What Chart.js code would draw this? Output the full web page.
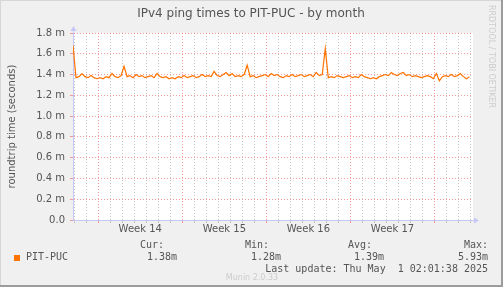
<!DOCTYPE html>
<html>
<head>
<meta charset="utf-8">
<script src="https://cdn.jsdelivr.net/npm/chart.js@4/dist/chart.umd.min.js"></script>
<style>
  html, body { margin: 0; padding: 0; background: #f0f0f0; }
  canvas { display: block; }
</style>
</head>
<body>
<canvas id="pingChart" width="503" height="287"></canvas>
<script>
// ping samples every 6h, in ms; x is days relative to Mon Mar 31 (start of week 14)
const sampleStart = -2.1;
const sampleStep = 0.25;
const pingValues = [
  1.68, 1.37, 1.38, 1.41, 1.38, 1.37, 1.39, 1.37, 1.36, 1.37,
  1.36, 1.38, 1.37, 1.41, 1.38, 1.37, 1.39, 1.48, 1.38, 1.39,
  1.37, 1.40, 1.38, 1.39, 1.37, 1.38, 1.39, 1.37, 1.41, 1.38,
  1.37, 1.38, 1.36, 1.37, 1.36, 1.38, 1.37, 1.39, 1.37, 1.38,
  1.39, 1.37, 1.38, 1.40, 1.38, 1.39, 1.38, 1.43, 1.39, 1.38,
  1.40, 1.42, 1.39, 1.41, 1.38, 1.39, 1.38, 1.40, 1.49, 1.38,
  1.39, 1.37, 1.38, 1.39, 1.40, 1.38, 1.41, 1.39, 1.40, 1.38,
  1.37, 1.39, 1.38, 1.40, 1.38, 1.39, 1.40, 1.38, 1.39, 1.40,
  1.38, 1.42, 1.39, 1.40, 1.65, 1.37, 1.38, 1.37, 1.39, 1.38,
  1.37, 1.38, 1.39, 1.37, 1.38, 1.37, 1.40, 1.38, 1.37, 1.36,
  1.37, 1.36, 1.38, 1.39, 1.40, 1.39, 1.42, 1.40, 1.39, 1.41,
  1.42, 1.39, 1.40, 1.38, 1.39, 1.38, 1.37, 1.38, 1.39, 1.38,
  1.36, 1.41, 1.34, 1.38, 1.39, 1.38, 1.40, 1.38, 1.39, 1.41,
  1.38, 1.36, 1.38
];

const xMin = -2.1;
const xMax = 31.2;
const weekStarts = [0, 7, 14, 21, 28];
const weekLabels = ["Week 14", "Week 15", "Week 16", "Week 17"];
const yMax = 1.8;

const statLabels = ["Cur:", "Min:", "Avg:", "Max:"];
const statValues = ["1.38m", "1.28m", "1.39m", "5.93m"];
const statRight = [164, 269, 372, 488];
const valueRight = [177, 281, 384, 488];

const seriesName = "PIT-PUC";
const titleText = "IPv4 ping times to PIT-PUC - by month";
const lastUpdate = "Last update: Thu May  1 02:01:38 2025";

const RED = "rgba(240, 90, 90, 0.6)";
const GRAY = "#c6c6c6";
const AXIS = "#c8c8f8";
const LINE = "#ff7300";
const TEXT = "#555555";

function pingPoints() {
  return pingValues.map((v, i) => ({ x: sampleStart + i * sampleStep, y: v }));
}

function xGridColor(ctx) {
  const v = ctx.tick ? ctx.tick.value : 0;
  if (Math.abs(v - Math.round(v)) > 0.01) return "rgba(0,0,0,0)";
  return weekStarts.includes(Math.round(v)) ? RED : GRAY;
}

function yGridColor(ctx) {
  const k = Math.round((ctx.tick ? ctx.tick.value : 0) * 10);
  return k % 2 === 0 ? RED : GRAY;
}

function weekLabel(value) {
  const idx = weekStarts.findIndex((w) => Math.abs(value - (w + 3.5)) < 0.01);
  return idx >= 0 && idx < weekLabels.length ? weekLabels[idx] : "";
}

const munimDecor = {
  id: "muninDecor",
  beforeDraw(chart) {
    const { ctx, chartArea: a } = chart;
    ctx.save();
    ctx.fillStyle = "#f0f0f0";
    ctx.fillRect(0, 0, chart.width, chart.height);
    ctx.fillStyle = "#ffffff";
    ctx.fillRect(a.left, a.top, a.right - a.left, a.bottom - a.top);
    ctx.restore();
  },
  afterDraw(chart) {
    const { ctx, chartArea: a } = chart;
    ctx.save();

    // axis arrows
    ctx.fillStyle = AXIS;
    ctx.strokeStyle = AXIS;
    ctx.lineWidth = 1;
    ctx.beginPath();
    ctx.moveTo(a.left + 0.5, a.top);
    ctx.lineTo(a.left + 0.5, a.top - 3);
    ctx.stroke();
    ctx.beginPath();
    ctx.moveTo(a.left - 2.5, a.top - 2);
    ctx.lineTo(a.left + 3.5, a.top - 2);
    ctx.lineTo(a.left + 0.5, a.top - 7);
    ctx.closePath();
    ctx.fill();
    ctx.beginPath();
    ctx.moveTo(a.right, a.bottom + 0.5);
    ctx.lineTo(a.right + 2, a.bottom + 0.5);
    ctx.stroke();
    ctx.beginPath();
    ctx.moveTo(a.right + 1, a.bottom - 2.5);
    ctx.lineTo(a.right + 1, a.bottom + 3.5);
    ctx.lineTo(a.right + 6, a.bottom + 0.5);
    ctx.closePath();
    ctx.fill();

    // title
    ctx.fillStyle = TEXT;
    ctx.font = "12px 'DejaVu Sans'";
    ctx.textAlign = "center";
    ctx.textBaseline = "middle";
    ctx.fillText(titleText, 251, 14);

    // legend
    ctx.font = "10px 'DejaVu Sans Mono'";
    ctx.textAlign = "right";
    statLabels.forEach((s, i) => ctx.fillText(s, statRight[i], 245));
    statValues.forEach((s, i) => ctx.fillText(s, valueRight[i], 257));
    ctx.fillText(lastUpdate, 488, 269);
    ctx.textAlign = "left";
    ctx.fillText(seriesName, 26, 257);
    ctx.fillStyle = LINE;
    ctx.fillRect(14, 255, 6, 6);

    ctx.fillStyle = "#cccccc";
    ctx.font = "8px 'DejaVu Sans'";
    ctx.textAlign = "center";
    ctx.fillText("Munin 2.0.33", 252, 278);

    // rrdtool watermark
    ctx.save();
    ctx.translate(491, 5);
    ctx.rotate(Math.PI / 2);
    ctx.textAlign = "left";
    ctx.textBaseline = "middle";
    ctx.font = "8px 'DejaVu Sans'";
    ctx.fillText("RRDTOOL / TOBI OETIKER", 0, 0);
    ctx.restore();

    // frame
    ctx.fillStyle = "#d6d6d6";
    ctx.fillRect(0, 0, chart.width, 1);
    ctx.fillRect(0, 0, 1, chart.height);
    ctx.fillStyle = "#9c9c9c";
    ctx.fillRect(chart.width - 2, 0, 2, chart.height);
    ctx.fillRect(0, chart.height - 2, chart.width, 2);
    ctx.restore();
  },
};

function buildChart() {
  const ctx = document.getElementById("pingChart");
  return new Chart(ctx, {
    type: "line",
    data: {
      datasets: [
        {
          label: seriesName,
          data: pingPoints(),
          borderColor: LINE,
          borderWidth: 1.2,
          pointRadius: 0,
          tension: 0,
          fill: false,
        },
      ],
    },
    options: {
      responsive: false,
      animation: false,
      devicePixelRatio: 1,
      layout: { padding: { top: 33, right: 30, left: 0, bottom: 0 } },
      plugins: {
        legend: { display: false },
        title: { display: false },
        tooltip: { enabled: false },
      },
      scales: {
        x: {
          type: "linear",
          min: xMin,
          max: xMax,
          afterBuildTicks: (scale) => {
            const ticks = [];
            for (let k = -4; k <= 62; k++) ticks.push({ value: k / 2 });
            scale.ticks = ticks;
          },
          afterFit: (scale) => {
            scale.height = 67;
          },
          ticks: {
            autoSkip: false,
            maxRotation: 0,
            padding: 0,
            color: TEXT,
            font: { family: "'DejaVu Sans'", size: 10 },
            callback: (value) => weekLabel(value),
          },
          grid: {
            color: xGridColor,
            tickColor: xGridColor,
            tickLength: 3,
            lineWidth: 1,
          },
          border: { display: true, color: AXIS, dash: [1, 2] },
        },
        y: {
          min: 0,
          max: yMax,
          afterBuildTicks: (scale) => {
            const ticks = [];
            for (let k = 0; k <= 18; k++) ticks.push({ value: k / 10 });
            scale.ticks = ticks;
          },
          afterFit: (scale) => {
            scale.width = 73;
          },
          ticks: {
            padding: 5,
            color: TEXT,
            font: { family: "'DejaVu Sans'", size: 10 },
            callback: (value) => {
              const k = Math.round(value * 10);
              if (k % 2 !== 0) return "";
              return k === 0 ? "0.0" : (k / 10).toFixed(1) + " m";
            },
          },
          grid: {
            color: yGridColor,
            tickColor: yGridColor,
            tickLength: 3,
            lineWidth: 1,
          },
          border: { display: true, color: AXIS, dash: [1, 2] },
          title: {
            display: true,
            text: "roundtrip time (seconds)",
            color: TEXT,
            font: { family: "'DejaVu Sans'", size: 10 },
            padding: { top: 6, bottom: 0 },
          },
        },
      },
    },
    plugins: [munimDecor],
  });
}

buildChart();
</script>
</body>
</html>
